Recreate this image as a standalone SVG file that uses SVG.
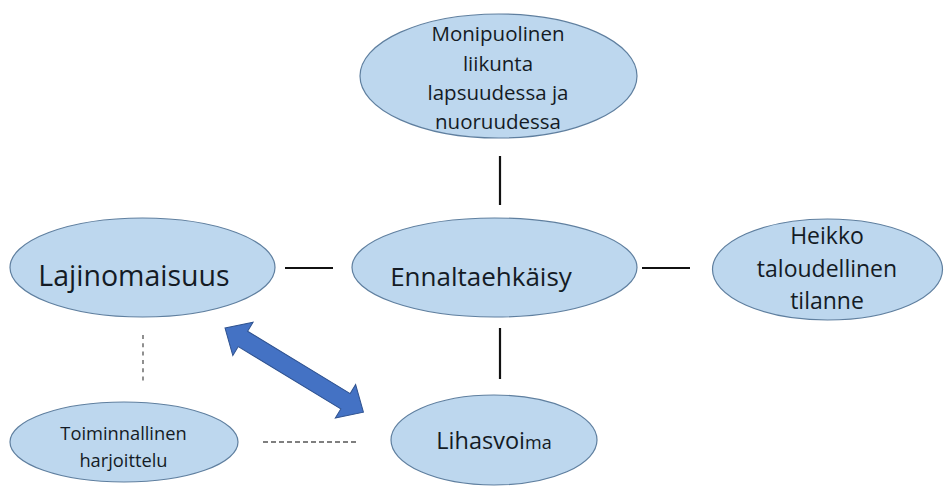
<svg xmlns="http://www.w3.org/2000/svg" width="944" height="486" viewBox="0 0 944 486">
<style>
.node ellipse{fill:#bdd7ee;stroke:#5f7f9f;stroke-width:1.2}
.node text{font-family:"Open Sans","Liberation Sans",sans-serif;fill:#141b25;text-anchor:middle}
.solid{stroke:#111;stroke-width:2.2;fill:none}
.dash{stroke:#555;stroke-width:1.3;fill:none}
</style>
<rect width="944" height="486" fill="#ffffff"/>
<g id="connectors">
<line class="solid" x1="500" y1="156" x2="500" y2="205"/>
<line class="solid" x1="285" y1="268" x2="333" y2="268"/>
<line class="solid" x1="642" y1="268" x2="690" y2="268"/>
<line class="solid" x1="500" y1="328" x2="500" y2="379"/>
<line class="dash" x1="143" y1="335" x2="143" y2="381" stroke-dasharray="4 4.3"/>
<line class="dash" x1="263" y1="442" x2="358" y2="442" stroke-dasharray="5 3"/>
<polygon transform="translate(225,328) rotate(31.3)" points="0,0 21,-19.5 21,-9 141,-9 141,-19.5 162,0 141,19.5 141,9 21,9 21,19.5" fill="#4472c4" stroke="#2f528f" stroke-width="1"/>
</g>
<g id="monipuolinen" class="node">
<ellipse cx="498.5" cy="76" rx="138.5" ry="62"/>
<text font-size="20.5"><tspan x="498" y="40.5">Monipuolinen</tspan><tspan x="498" y="70.5">liikunta</tspan><tspan x="498" y="100">lapsuudessa ja</tspan><tspan x="498" y="128.5">nuoruudessa</tspan></text>
</g>
<g id="lajinomaisuus" class="node">
<ellipse cx="142.5" cy="267.5" rx="132.5" ry="49.5"/>
<text x="134" y="286" font-size="28.5">Lajinomaisuus</text>
</g>
<g id="ennaltaehkaisy" class="node">
<ellipse cx="494.5" cy="267.5" rx="142.5" ry="49.5"/>
<text x="481" y="286" font-size="26">Ennaltaehkäisy</text>
</g>
<g id="heikko" class="node">
<ellipse cx="827.5" cy="269.5" rx="115" ry="50.5"/>
<text font-size="23"><tspan x="827" y="244">Heikko</tspan><tspan x="827" y="277">taloudellinen</tspan><tspan x="827" y="308.5">tilanne</tspan></text>
</g>
<g id="toiminnallinen" class="node">
<ellipse cx="124" cy="442" rx="114" ry="40"/>
<text font-size="18.3"><tspan x="123.5" y="440">Toiminnallinen</tspan><tspan x="123.5" y="467">harjoittelu</tspan></text>
</g>
<g id="lihasvoima" class="node">
<ellipse cx="494" cy="440" rx="103" ry="45"/>
<text x="494" y="449" font-size="23.5">Lihasvoi<tspan font-size="18">ma</tspan></text>
</g>
</svg>
